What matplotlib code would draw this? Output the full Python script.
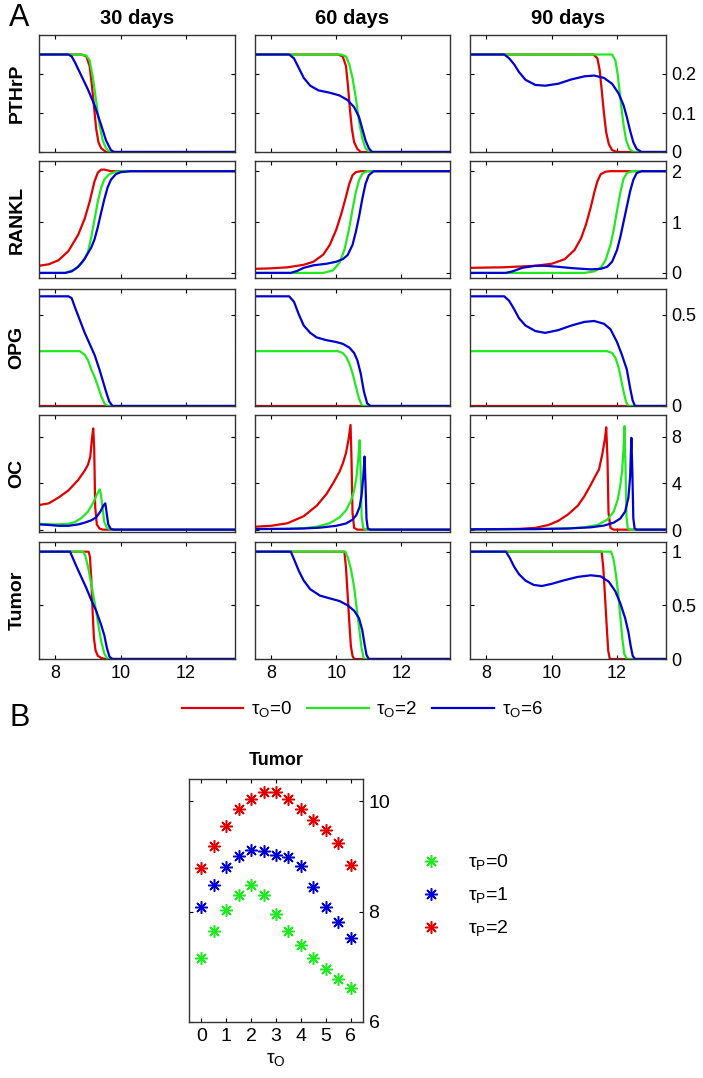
import matplotlib
matplotlib.use("Agg")
import matplotlib.pyplot as plt
from matplotlib.lines import Line2D

plt.rcParams['font.family'] = ['Liberation Sans', 'DejaVu Sans']
plt.rcParams['mathtext.fontset'] = 'custom'
plt.rcParams['mathtext.rm'] = 'Liberation Sans'

# ---- data, panel A (time in x, each curve = (x, y)) ----
# PTHrP
pthrp_30_t0 = ([7.5, 8.8, 8.95, 9.05, 9.12, 9.18, 9.25, 9.32, 9.4, 9.55, 13.5],
               [0.25, 0.25, 0.245, 0.22, 0.17, 0.12, 0.06, 0.025, 0.01, 0.0, 0.0])
pthrp_30_t2 = ([7.5, 8.8, 8.95, 9.05, 9.15, 9.25, 9.35, 9.45, 9.55, 9.65, 13.5],
               [0.25, 0.25, 0.247, 0.235, 0.19, 0.13, 0.07, 0.03, 0.01, 0.0, 0.0])
pthrp_30_t6 = ([7.5, 8.4, 8.5, 8.6, 8.8, 9.0, 9.2, 9.4, 9.55, 9.7, 9.8, 13.5],
               [0.25, 0.25, 0.245, 0.23, 0.195, 0.16, 0.12, 0.07, 0.03, 0.005, 0.0, 0.0])
pthrp_60_t0 = ([7.5, 10.05, 10.2, 10.3, 10.36, 10.42, 10.48, 10.55, 10.65, 10.75, 13.5],
               [0.25, 0.25, 0.245, 0.22, 0.17, 0.11, 0.06, 0.025, 0.008, 0.0, 0.0])
pthrp_60_t2 = ([7.5, 10.15, 10.3, 10.4, 10.5, 10.6, 10.7, 10.8, 10.9, 11.0, 13.5],
               [0.25, 0.25, 0.245, 0.225, 0.19, 0.14, 0.08, 0.035, 0.01, 0.0, 0.0])
pthrp_60_t6 = ([7.5, 8.55, 8.7, 8.85, 9.0, 9.2, 9.45, 9.8, 10.1, 10.35, 10.55, 10.7, 10.8, 10.9, 11.0, 11.1, 13.5],
               [0.25, 0.25, 0.24, 0.215, 0.19, 0.17, 0.158, 0.152, 0.145, 0.133, 0.115, 0.09, 0.06, 0.03, 0.01, 0.0, 0.0])
pthrp_90_t0 = ([7.5, 11.28, 11.4, 11.47, 11.53, 11.6, 11.67, 11.75, 11.85, 12.0, 13.5],
               [0.25, 0.25, 0.24, 0.21, 0.16, 0.1, 0.05, 0.02, 0.005, 0.0, 0.0])
pthrp_90_t2 = ([7.5, 11.85, 11.95, 12.02, 12.08, 12.14, 12.2, 12.28, 12.38, 12.5, 13.5],
               [0.25, 0.25, 0.235, 0.2, 0.155, 0.11, 0.07, 0.03, 0.008, 0.0, 0.0])
pthrp_90_t6 = ([7.5, 8.55, 8.7, 8.85, 9.0, 9.2, 9.5, 9.8, 10.2, 10.6, 11.0, 11.3, 11.6, 11.85, 12.05, 12.2, 12.3, 12.4, 12.5, 12.6, 12.75, 13.5],
               [0.25, 0.25, 0.24, 0.225, 0.205, 0.185, 0.172, 0.17, 0.175, 0.186, 0.194, 0.196, 0.19, 0.175, 0.15, 0.12, 0.09, 0.055, 0.025, 0.008, 0.0, 0.0])

# RANKL
rankl_30_t0 = ([7.5, 7.8, 8.1, 8.4, 8.7, 8.9, 9.05, 9.2, 9.3, 9.4, 9.5, 9.7, 13.5],
               [0.14, 0.17, 0.25, 0.43, 0.75, 1.07, 1.4, 1.8, 1.97, 2.03, 2.03, 2.0, 2.0])
rankl_30_t2 = ([7.5, 8.3, 8.6, 8.85, 9.0, 9.1, 9.2, 9.3, 9.4, 9.5, 9.65, 9.85, 10.1, 13.5],
               [0.0, 0.0, 0.07, 0.22, 0.42, 0.7, 1.05, 1.4, 1.67, 1.84, 1.94, 1.99, 2.0, 2.0])
rankl_30_t6 = ([7.5, 8.3, 8.5, 8.7, 8.9, 9.1, 9.2, 9.3, 9.4, 9.5, 9.6, 9.7, 9.85, 10.0, 10.3, 13.5],
               [0.0, 0.0, 0.03, 0.12, 0.28, 0.5, 0.66, 0.9, 1.18, 1.45, 1.68, 1.83, 1.94, 1.98, 2.0, 2.0])
rankl_60_t0 = ([7.5, 8.0, 8.5, 9.0, 9.3, 9.6, 9.8, 10.0, 10.15, 10.3, 10.4, 10.5, 10.6, 10.75, 13.5],
               [0.08, 0.09, 0.11, 0.16, 0.22, 0.36, 0.55, 0.85, 1.15, 1.5, 1.75, 1.92, 1.98, 2.0, 2.0])
rankl_60_t2 = ([7.5, 9.6, 9.9, 10.1, 10.25, 10.4, 10.5, 10.6, 10.7, 10.8, 10.95, 13.5],
               [0.0, 0.0, 0.05, 0.2, 0.45, 0.88, 1.25, 1.58, 1.82, 1.95, 2.0, 2.0])
rankl_60_t6 = ([7.5, 8.6, 8.8, 9.0, 9.3, 9.7, 10.0, 10.2, 10.35, 10.5, 10.6, 10.7, 10.8, 10.9, 11.0, 11.15, 13.5],
               [0.0, 0.0, 0.04, 0.1, 0.15, 0.18, 0.22, 0.27, 0.35, 0.55, 0.8, 1.1, 1.45, 1.75, 1.92, 2.0, 2.0])
rankl_90_t0 = ([7.5, 8.5, 9.5, 10.0, 10.4, 10.7, 10.9, 11.05, 11.2, 11.3, 11.4, 11.5, 11.65, 11.8, 13.5],
               [0.1, 0.11, 0.14, 0.18, 0.27, 0.45, 0.68, 0.95, 1.3, 1.57, 1.8, 1.94, 1.99, 2.0, 2.0])
rankl_90_t2 = ([7.5, 11.0, 11.3, 11.5, 11.65, 11.8, 11.9, 12.0, 12.1, 12.2, 12.3, 12.45, 13.5],
               [0.0, 0.0, 0.03, 0.1, 0.25, 0.55, 0.85, 1.22, 1.58, 1.85, 1.96, 2.0, 2.0])
rankl_90_t6 = ([7.5, 8.6, 8.8, 9.1, 9.5, 9.8, 10.2, 10.7, 11.2, 11.5, 11.7, 11.85, 12.0, 12.1, 12.2, 12.3, 12.4, 12.5, 12.6, 12.75, 13.5],
               [0.0, 0.0, 0.03, 0.1, 0.14, 0.14, 0.12, 0.09, 0.07, 0.08, 0.12, 0.22, 0.45, 0.7, 1.0, 1.3, 1.6, 1.83, 1.96, 2.0, 2.0])

# OPG
opg_30_t0 = ([7.5, 13.5], [0.0, 0.0])
opg_30_t2 = ([7.5, 8.75, 8.9, 9.0, 9.1, 9.2, 9.3, 9.4, 9.5, 9.6, 13.5],
             [0.3, 0.3, 0.28, 0.25, 0.2, 0.16, 0.11, 0.055, 0.015, 0.0, 0.0])
opg_30_t6 = ([7.5, 8.4, 8.5, 8.6, 8.75, 8.9, 9.05, 9.2, 9.35, 9.45, 9.55, 9.65, 9.75, 13.5],
             [0.6, 0.6, 0.59, 0.54, 0.47, 0.4, 0.34, 0.28, 0.2, 0.14, 0.08, 0.025, 0.0, 0.0])
opg_60_t0 = ([7.5, 13.5], [0.0, 0.0])
opg_60_t2 = ([7.5, 10.05, 10.2, 10.3, 10.4, 10.5, 10.6, 10.7, 10.8, 13.5],
             [0.3, 0.3, 0.29, 0.27, 0.235, 0.18, 0.11, 0.04, 0.0, 0.0])
opg_60_t6 = ([7.5, 8.55, 8.7, 8.85, 9.0, 9.2, 9.4, 9.7, 10.0, 10.2, 10.4, 10.55, 10.65, 10.75, 10.85, 10.95, 11.05, 13.5],
             [0.6, 0.6, 0.57, 0.5, 0.44, 0.4, 0.375, 0.36, 0.35, 0.34, 0.32, 0.29, 0.25, 0.18, 0.08, 0.015, 0.0, 0.0])
opg_90_t0 = ([7.5, 13.5], [0.0, 0.0])
opg_90_t2 = ([7.5, 11.7, 11.85, 11.95, 12.05, 12.12, 12.2, 12.28, 12.35, 13.5],
             [0.3, 0.3, 0.29, 0.265, 0.21, 0.15, 0.08, 0.02, 0.0, 0.0])
opg_90_t6 = ([7.5, 8.55, 8.7, 8.85, 9.0, 9.2, 9.5, 9.8, 10.2, 10.6, 11.0, 11.3, 11.6, 11.8, 12.0, 12.15, 12.3, 12.4, 12.48, 12.55, 13.5],
             [0.6, 0.6, 0.575, 0.53, 0.48, 0.44, 0.41, 0.40, 0.415, 0.44, 0.46, 0.465, 0.45, 0.42, 0.35, 0.28, 0.2, 0.1, 0.03, 0.0, 0.0])

# OC
oc_30_t0 = ([7.5, 7.8, 8.1, 8.4, 8.7, 8.9, 9.0, 9.07, 9.12, 9.16, 9.19, 9.22, 9.27, 9.35, 9.45, 13.5],
            [2.15, 2.3, 2.8, 3.4, 4.3, 5.1, 5.6, 6.3, 7.8, 8.7, 7.0, 2.0, 0.5, 0.15, 0.05, 0.05])
oc_30_t2 = ([7.5, 8.0, 8.4, 8.6, 8.8, 9.0, 9.15, 9.28, 9.36, 9.4, 9.45, 9.5, 9.58, 9.7, 13.5],
            [0.55, 0.5, 0.55, 0.7, 1.05, 1.6, 2.3, 3.1, 3.5, 3.0, 1.8, 0.7, 0.2, 0.05, 0.05])
oc_30_t6 = ([7.5, 7.8, 8.1, 8.4, 8.7, 8.9, 9.1, 9.25, 9.38, 9.47, 9.53, 9.57, 9.62, 9.7, 9.8, 13.5],
            [0.5, 0.45, 0.38, 0.38, 0.5, 0.65, 0.85, 1.1, 1.6, 2.1, 2.3, 1.5, 0.5, 0.1, 0.05, 0.05])
oc_60_t0 = ([7.5, 8.0, 8.5, 9.0, 9.4, 9.7, 9.9, 10.1, 10.2, 10.3, 10.38, 10.44, 10.47, 10.5, 10.55, 10.65, 13.5],
            [0.3, 0.38, 0.6, 1.2, 2.1, 3.1, 4.0, 5.0, 5.7, 6.6, 7.8, 9.0, 6.0, 1.5, 0.2, 0.05, 0.05])
oc_60_t2 = ([7.5, 8.5, 9.0, 9.4, 9.8, 10.1, 10.3, 10.45, 10.55, 10.62, 10.68, 10.72, 10.75, 10.78, 10.83, 10.9, 13.5],
            [0.1, 0.12, 0.18, 0.3, 0.6, 1.1, 1.7, 2.5, 3.4, 4.5, 6.2, 7.7, 5.0, 1.2, 0.2, 0.05, 0.05])
oc_60_t6 = ([7.5, 8.5, 9.0, 9.5, 10.0, 10.3, 10.5, 10.62, 10.72, 10.78, 10.83, 10.87, 10.9, 10.93, 10.97, 11.05, 13.5],
            [0.1, 0.12, 0.15, 0.22, 0.38, 0.58, 0.9, 1.3, 2.0, 3.0, 4.5, 6.3, 4.0, 1.0, 0.15, 0.05, 0.05])
oc_90_t0 = ([7.5, 8.5, 9.0, 9.5, 9.9, 10.2, 10.5, 10.8, 11.0, 11.2, 11.35, 11.45, 11.55, 11.63, 11.67, 11.71, 11.74, 11.8, 11.9, 13.5],
            [0.08, 0.1, 0.12, 0.2, 0.45, 0.8, 1.35, 2.1, 2.9, 3.9, 4.7, 5.2, 6.5, 7.8, 8.8, 6.0, 1.5, 0.2, 0.05, 0.05])
oc_90_t2 = ([7.5, 9.5, 10.5, 11.0, 11.4, 11.7, 11.9, 12.02, 12.1, 12.16, 12.2, 12.23, 12.26, 12.29, 12.33, 12.4, 13.5],
            [0.08, 0.1, 0.15, 0.25, 0.45, 0.9, 1.6, 2.6, 3.8, 5.2, 7.0, 8.9, 5.5, 1.2, 0.15, 0.05, 0.05])
oc_90_t6 = ([7.5, 9.5, 10.5, 11.2, 11.6, 11.9, 12.1, 12.25, 12.35, 12.4, 12.44, 12.47, 12.5, 12.54, 12.6, 13.5],
            [0.08, 0.1, 0.15, 0.25, 0.4, 0.65, 1.0, 1.6, 2.8, 4.5, 7.9, 5.0, 1.0, 0.15, 0.05, 0.05])

# Tumor
tumor_30_t0 = ([7.5, 9.02, 9.06, 9.1, 9.14, 9.18, 9.23, 9.3, 9.4, 9.55, 13.5],
               [1, 1, 0.95, 0.75, 0.45, 0.2, 0.08, 0.03, 0.01, 0, 0])
tumor_30_t2 = ([7.5, 8.85, 8.92, 9.0, 9.1, 9.2, 9.3, 9.4, 9.5, 9.6, 13.5],
               [1, 1, 0.96, 0.86, 0.7, 0.53, 0.35, 0.17, 0.05, 0, 0])
tumor_30_t6 = ([7.5, 8.45, 8.55, 8.65, 8.8, 8.95, 9.1, 9.25, 9.4, 9.5, 9.58, 9.66, 9.75, 13.5],
               [1, 1, 0.93, 0.86, 0.76, 0.66, 0.55, 0.45, 0.32, 0.22, 0.1, 0.02, 0, 0])
tumor_60_t0 = ([7.5, 10.25, 10.3, 10.35, 10.4, 10.45, 10.5, 10.55, 13.5],
               [1, 1, 0.85, 0.6, 0.35, 0.12, 0.03, 0, 0])
tumor_60_t2 = ([7.5, 10.28, 10.35, 10.45, 10.55, 10.65, 10.72, 10.78, 10.85, 13.5],
               [1, 1, 0.95, 0.84, 0.67, 0.42, 0.25, 0.1, 0, 0])
tumor_60_t6 = ([7.5, 8.6, 8.7, 8.85, 9.0, 9.2, 9.5, 9.8, 10.1, 10.35, 10.55, 10.7, 10.8, 10.87, 10.93, 11.0, 13.5],
               [1, 1, 0.93, 0.82, 0.73, 0.65, 0.59, 0.565, 0.54, 0.5, 0.45, 0.38, 0.27, 0.14, 0.04, 0, 0])
tumor_90_t0 = ([7.5, 11.53, 11.58, 11.63, 11.68, 11.73, 11.78, 13.5],
               [1, 1, 0.85, 0.6, 0.33, 0.08, 0, 0])
tumor_90_t2 = ([7.5, 11.82, 11.9, 11.97, 12.04, 12.1, 12.16, 12.22, 12.3, 13.5],
               [1, 1, 0.92, 0.78, 0.6, 0.4, 0.2, 0.05, 0, 0])
tumor_90_t6 = ([7.5, 8.6, 8.72, 8.85, 9.0, 9.2, 9.45, 9.7, 10.0, 10.4, 10.8, 11.2, 11.5, 11.75, 11.95, 12.1, 12.25, 12.35, 12.42, 12.48, 12.55, 13.5],
               [1, 1, 0.94, 0.86, 0.79, 0.73, 0.69, 0.68, 0.7, 0.735, 0.765, 0.78, 0.77, 0.72, 0.63, 0.52, 0.38, 0.25, 0.12, 0.03, 0, 0])

row_names = ["PTHrP", "RANKL", "OPG", "OC", "Tumor"]
col_names = ["30 days", "60 days", "90 days"]
tau_o_labels = ["τ$_\\mathrm{O}$=0", "τ$_\\mathrm{O}$=2", "τ$_\\mathrm{O}$=6"]
row_ylims = [(0, 0.3), (-0.1, 2.2), (0, 0.64), (-0.15, 9.85), (0, 1.09)]
row_yticks = [[0, 0.1, 0.2], [0, 1, 2], [0, 0.5], [0, 4, 8], [0, 0.5, 1]]
row_yticklabels = [["0", "0.1", "0.2"], ["0", "1", "2"], ["0", "0.5"], ["0", "4", "8"], ["0", "0.5", "1"]]
x_ticks = [8, 10, 12]

# ---- data, panel B ----
tau_o = [0, 0.5, 1, 1.5, 2, 2.5, 3, 3.5, 4, 4.5, 5, 5.5, 6]
tumor_tp0 = [7.15, 7.64, 8.02, 8.30, 8.48, 8.30, 7.95, 7.65, 7.39, 7.16, 6.96, 6.78, 6.61]
tumor_tp1 = [8.09, 8.48, 8.80, 9.01, 9.12, 9.09, 9.02, 8.99, 8.82, 8.44, 8.09, 7.81, 7.53]
tumor_tp2 = [8.78, 9.18, 9.55, 9.85, 10.04, 10.16, 10.16, 10.04, 9.85, 9.65, 9.48, 9.25, 8.85]
tau_p_labels = ["τ$_\\mathrm{P}$=0", "τ$_\\mathrm{P}$=1", "τ$_\\mathrm{P}$=2"]

panels = [
    [[pthrp_30_t0, pthrp_30_t2, pthrp_30_t6], [pthrp_60_t0, pthrp_60_t2, pthrp_60_t6], [pthrp_90_t0, pthrp_90_t2, pthrp_90_t6]],
    [[rankl_30_t0, rankl_30_t2, rankl_30_t6], [rankl_60_t0, rankl_60_t2, rankl_60_t6], [rankl_90_t0, rankl_90_t2, rankl_90_t6]],
    [[opg_30_t0, opg_30_t2, opg_30_t6], [opg_60_t0, opg_60_t2, opg_60_t6], [opg_90_t0, opg_90_t2, opg_90_t6]],
    [[oc_30_t0, oc_30_t2, oc_30_t6], [oc_60_t0, oc_60_t2, oc_60_t6], [oc_90_t0, oc_90_t2, oc_90_t6]],
    [[tumor_30_t0, tumor_30_t2, tumor_30_t6], [tumor_60_t0, tumor_60_t2, tumor_60_t6], [tumor_90_t0, tumor_90_t2, tumor_90_t6]],
]

RED = '#e00000'
GREEN = '#22e822'
BLUE = '#0000d2'
colors = [RED, GREEN, BLUE]

W, H = 703, 1078
fig = plt.figure(figsize=(W / 100, H / 100), dpi=100)


def px_axes(l, t, r, b):
    return fig.add_axes([l / W, 1 - b / H, (r - l) / W, (b - t) / H])


def style(ax, size):
    ax.tick_params(direction='in', top=True, right=True, length=3, width=0.8,
                   labelsize=size, colors='black')
    for s in ax.spines.values():
        s.set_linewidth(1.0)
        s.set_color('#333333')


col_lr = [(39, 235), (255, 450), (470, 666)]
row_tb = [(35, 152), (161, 278), (289, 406), (415, 532), (542, 659)]

for i in range(5):
    for j in range(3):
        ax = px_axes(col_lr[j][0], row_tb[i][0], col_lr[j][1], row_tb[i][1])
        for k, (xs, ys) in enumerate(panels[i][j]):
            ax.plot(xs, ys, color=colors[k], lw=1.6)
        ax.set_xlim(7.5, 13.5)
        ax.set_ylim(*row_ylims[i])
        ax.set_xticks(x_ticks)
        ax.set_yticks(row_yticks[i])
        style(ax, 13)
        ax.yaxis.tick_right()
        ax.tick_params(left=True, right=True, labelleft=False,
                       labelright=(j == 2), labelbottom=(i == 4), pad=4)
        if j == 2:
            ax.set_yticklabels(row_yticklabels[i])
        if i == 4:
            ax.set_xticklabels([str(t) for t in x_ticks])
        if i == 0:
            ax.set_title(col_names[j], fontsize=14.5, fontweight='bold', pad=8)
        if j == 0:
            fig.text(17 / W, 1 - (row_tb[i][0] + row_tb[i][1]) / 2 / H, row_names[i],
                     rotation=90, ha='center', va='center', fontsize=14, fontweight='bold')

fig.text(19 / W, 1 - 18 / H, "A", fontsize=22, ha='center', va='center')
fig.text(20 / W, 1 - 718 / H, "B", fontsize=22, ha='center', va='center')

handles = [Line2D([], [], color=c, lw=1.6) for c in colors]
fig.legend(handles, tau_o_labels, loc='center', bbox_to_anchor=(362 / W, 1 - 710 / H),
           ncol=3, frameon=False, fontsize=13.5, handlelength=3.3, handletextpad=0.4,
           columnspacing=0.8)

# ---- panel B ----
axb = px_axes(189, 779, 363, 1022)
mk = (8, 2, 0)
axb.plot(tau_o, tumor_tp0, ls='none', marker=mk, ms=9, mew=1.1, color=GREEN, label=tau_p_labels[0])
axb.plot(tau_o, tumor_tp1, ls='none', marker=mk, ms=9, mew=1.1, color=BLUE, label=tau_p_labels[1])
axb.plot(tau_o, tumor_tp2, ls='none', marker=mk, ms=9, mew=1.1, color=RED, label=tau_p_labels[2])
axb.set_xlim(-0.5, 6.5)
axb.set_ylim(6, 10.4)
axb.set_xticks(range(7))
axb.set_yticks([6, 8, 10])
style(axb, 14)
axb.yaxis.tick_right()
axb.tick_params(left=True, right=True, labelleft=False, labelright=True, pad=4)
axb.set_title("Tumor", fontsize=13, fontweight='bold', pad=10)
axb.set_xlabel("τ$_\\mathrm{O}$", fontsize=14, labelpad=5)
axb.legend(loc='center left', bbox_to_anchor=(1.18, 0.52), frameon=False, fontsize=14,
           handletextpad=0.9, labelspacing=0.65, markerscale=1.0)

fig.savefig("out.png", dpi=100)
